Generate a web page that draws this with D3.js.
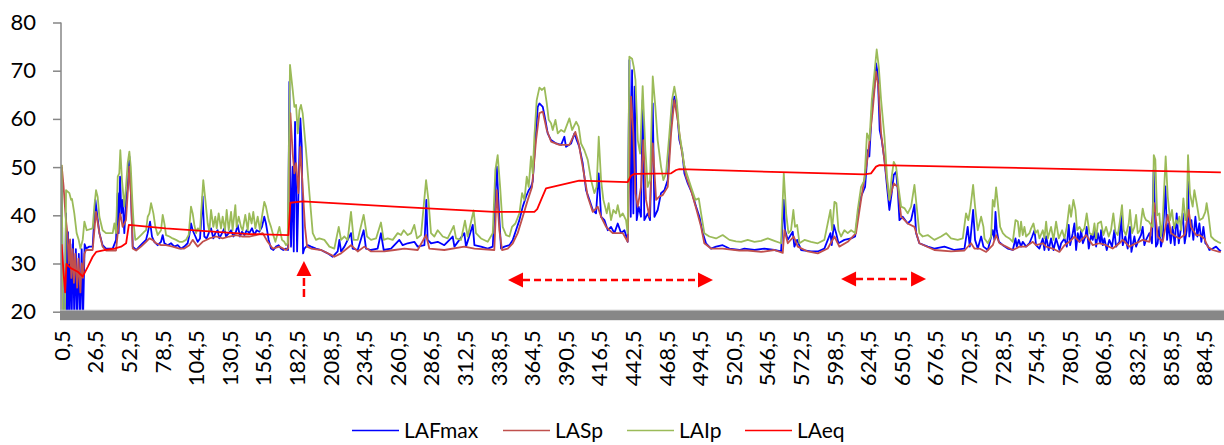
<!DOCTYPE html>
<html>
<head>
<meta charset="utf-8">
<script src="https://cdn.jsdelivr.net/npm/d3@7"></script>
<style>
  html, body { margin: 0; padding: 0; background: #fff; }
  svg { display: block; font-family: Lato, "Liberation Sans", sans-serif; }
</style>
</head>
<body>
<svg id="chart" width="1224" height="445"></svg>
<script>
// Sound level time history, seconds vs dB(A)
const categoryCount = 898;                 // one category per second: 0,5 … 897,5
const xTickValues = d3.range(0, 35).map(k => 0.5 + 26 * k);
const yTickValues = [20, 30, 40, 50, 60, 70, 80];

const seriesNames = ["LAFmax", "LASp", "LAIp", "LAeq"];

// [time (s), level dB]
const lafmax = [
[0.5,50],[1.5,18],[3,19],[3.9,40.4],[4.6,18],[5.4,36.5],[6.3,18],[7.3,34],[8.2,18],[9.3,35],[10.3,18],[11.5,33],[12.5,18],[13.8,32],[14.8,18],[16,33],[17,18],[18.3,34],[19.4,33.1],[21.9,33.5],[24.5,33.5],[26.6,43.2],[29.7,36.3],[32.2,33.8],[34.8,33.1],[40,33.1],[42.6,34.9],[43.9,44.6],[44.6,36.3],[45.7,48],[46.7,40.4],[47.7,43.2],[49,36.3],[50.3,43.2],[51.6,45.9],[52.9,52.2],
[54.2,44],[55.5,33.5],[58.1,32.8],[60.6,33.5],[63.2,34.2],[65.8,34.9],[67.1,36.3],[68.9,38.7],[70.4,35.6],[72.2,34.5],[74.8,33.8],[77.4,34.5],[78.7,35.9],[80,34.2],[82.6,33.8],[85.1,34.2],[87.7,33.5],[90.3,33.8],[92.9,33.1],[95.4,33.5],[98,34.2],[99.3,35.9],[100.6,38.3],[101.9,36.9],[104,35.6],[105.8,34.5],[107.6,35.2],[109.6,43.9],[110.9,35.6],[112.7,35.2],[114.8,36.6],[116.1,37.3],[117.9,35.2],[119.4,36.3],[121.2,36.9],[122.5,35.2],[124.6,36.3],[126.4,37.3],[127.7,35.6],[129.8,36.3],[131.6,36.9],[133.4,35.6],[135.4,36.6],[136.7,38],[138.5,35.6],[140.1,36.6],[141.9,35.9],[143.7,36.9],[145.7,36.3],[147.8,37.3],[149.6,35.9],[151.4,36.9],[153.5,36.6],[155.5,37.6],[157.3,39.7],[158.6,38.3],[160.7,34.9],[162.5,33.1],[164.3,32.8],[166.4,33.5],[168.4,33.8],[170.2,33.1],[172,32.8],[174.1,33.1],[175.7,32.8],
[176.7,67.7],[178,33.5],[179.3,50.1],[180.1,32.5],[181.1,59.4],[182.7,32.5],[184.5,53.5],[185.2,60.1],[186.3,54.2],[187.3,32.1],[188.3,33.1],[190.9,33.8],[193.5,33.5],[197.3,33.1],[201.2,32.8],[206.4,32.1],[210.2,31.4],[214.1,32.5],[215.4,34.9],[216.7,32.5],[219.3,33.5],[224.4,36.3],[225.7,33.1],[229.6,32.8],[234.2,36.9],[236,33.1],[239.9,32.8],[245,33.1],[247.6,36.3],[249.7,32.8],[255.4,33.1],[261.8,34.9],[264.4,33.8],[268.3,34.2],[273.4,34.5],[276,33.5],[281.2,33.8],[282.7,43.2],[283.7,34.9],[286.3,34.2],[291.5,34.5],[296.6,33.8],[303.1,35.6],[304.4,33.5],[312.1,36.3],[313.4,33.5],[318.6,38],[319.9,33.8],[325,33.5],[330.2,33.1],
[334.1,33.5],[337.2,50.1],[338.7,41.8],[340.5,33.1],[343.1,33.5],[347,33.8],[349.6,34.9],[352.1,36.9],[354.7,39],[357.3,41.8],[359.9,43.9],[361.9,45.2],[363.7,45.9],[365,47],[367.1,55.6],[368.9,62.5],[370.2,63.2],[372.8,62.5],[374.8,59.8],[376.6,57],[379.2,55.6],[383.1,54.9],[387,54.6],[389.5,56.3],[390.8,54.2],[394.7,54.9],[397.3,57],[399.1,55.6],[401.1,54.2],[403.7,50.8],[406.3,45.2],[408.9,43.2],[411.5,41.1],[414,40.4],[416.1,48.7],[417.9,39.7],[420.5,39],[423.1,36.9],[425.6,37.6],[428.2,36.3],[430.8,38.3],[433.4,36.3],[436,36.9],[438.5,34.5],[439.8,72.2],[440.9,39.7],[441.9,70.1],[442.9,40.4],[443.9,66.7],[445.5,39],[447,41.8],[448.8,39.7],[450.1,63.9],[451.4,39],[454,40.4],[455.8,39],[457.9,63.2],[459.2,39.7],[461.7,41.1],[464.3,44.6],[466.9,45.2],[469.5,47.3],[472.1,59.8],[474.6,64.6],[476.7,61.8],[478.5,55.6],[480.6,53.5],[482.4,48.7],[485,46.6],[488.3,44.6],[491.4,41.8],[494,39.7],[496.6,36.3],[499.1,34.2],[503,33.1],[506.9,33.5],[512,33.8],[517.2,33.1],[524.9,32.8],
[528.8,33.1],[536.6,32.8],[544.3,33.1],[552,32.8],[557.2,32.5],[559.3,43.2],[560.3,36.9],[562.4,34.9],[566.2,36.6],[567.5,33.5],[569.6,34.9],[572.7,32.8],[580.4,32.5],[585.6,32.5],[590.7,33.1],[595.4,36.3],[596.4,33.8],[598,38],[599.8,36.3],[601.6,34.2],[606.2,34.9],[611.4,35.2],[614.5,35.6],[617,41.1],[619.1,43.9],[622.2,45.9],[624.3,53.5],[625.5,52.2],[627.4,61.8],[629.4,66.7],[630.7,71.5],[632,69.4],[633.5,57.7],[635.1,55.6],[637.2,51.5],[639.2,45.9],[641,41.1],[642.8,44.6],[644.4,48.4],[646.2,49],[647.5,45.2],[648.8,39],[651.3,39.7],[655.2,38.3],[657.8,39],[660.4,42.2],[661.7,36.3],[664.2,34.2],[670.7,33.5],[675.8,33.1],[683.6,33.5],[691.3,32.8],[699.1,33.1],[701.6,37.6],[703.2,33.5],[705.8,41.1],[707.3,34.9],[709.4,33.1],
[712,35.6],[713.8,33.5],[717.2,32.8],[721,36.9],[722.3,34.9],[723.1,40.7],[724.1,36.9],[725.7,34.5],[728.8,33.8],[732.6,33.1],[736.5,32.8],[738.6,35.2],[739.6,33.5],[741.1,34.9],[742.9,33.5],[744.2,34.5],[746.8,33.5],[749.4,34.2],[751.5,35.6],[753.3,36.9],[754.5,33.8],[757.1,33.1],[759.7,35.2],[761,32.8],[762.3,35.6],[764.3,32.8],[766.1,35.2],[768,32.8],[770,35.2],[772.6,32.8],[773.9,34.2],[776.5,35.2],[778.3,33.5],[779.8,38],[780.9,33.8],[782.9,36.3],[784.2,38.3],[785.5,32.8],[786.8,36.3],[788.1,34.5],[789.4,36.9],[790.7,34.2],[792.7,35.6],[793.7,37.6],[795.3,33.1],[797.1,35.9],[798.4,34.9],[799.7,36.9],[801,33.5],[802.3,36.3],[804.1,34.2],[804.8,36.9],[806.1,33.8],[807.4,35.2],[809.2,32.8],[811.2,34.9],[813.3,33.5],[815.1,36.9],[816.4,33.5],[819,34.5],[820.3,40.1],[821.6,33.8],[823.6,35.6],[825.4,33.1],[827.2,37.6],[828.3,32.4],[830.6,35.6],[831.9,33.5],[833.9,34.9],[835.7,35.9],[837,37.6],[838.3,33.8],[839.6,34.9],[842.2,36.3],[844.2,34.2],[845.5,49.4],[847.3,33.5],[848.6,34.2],[849.9,37.6],[851.2,33.5],[852.5,35.2],[854.6,46],[855.9,34.9],[857.1,38.3],[858.7,34.2],[860.2,37.6],[861.8,33.8],[863.3,40.4],[864.9,34.2],[866.4,36.9],[868,40.4],[869.5,34.2],[871.1,36.9],[872.1,47],[873.1,35.6],[874.7,39],[876.2,34.9],[877.8,39.7],[879.3,35.6],[880.9,38.3],[882.4,34.5],[884,37.6],[885.5,34.2],[887.1,33.8],[888.6,32.8],[891.2,33.1],[893.8,33.5],[896.3,32.8],[897.5,32.5]
];

const lasp = [
[0.5,50.4],[2,46],[3.5,40],[5,36],[6,30],[7,35],[8,27],[9,33],[10,26],[11,32],[12.5,25],[13.5,31],[15,24],[16,30],[17,27],[18.1,32],[19.4,32.8],[24.5,32.8],[27.1,40.7],[29.7,36.3],[32.2,33.5],[34.8,32.7],[42.6,32.7],[43.9,36.3],[45.9,40.4],[47.7,37.6],[50.3,39],[52.9,50.1],
[54.2,44],[55.5,33.1],[58.1,32.7],[61.9,33.5],[65.8,34.5],[68.4,35.2],[70.9,34.9],[73.5,34.2],[77.4,33.8],[81.3,33.8],[86.4,33.5],[91.6,33.1],[95.4,33.1],[99.3,33.8],[101.9,34.9],[105.8,33.5],[109.6,34.5],[114.8,35.2],[120,35.6],[125.1,35.2],[130.3,35.6],[135.4,35.9],[140.6,35.6],[145.7,35.6],[150.9,35.9],[156.1,36.3],[159.9,34.5],[163.8,33.1],[169,33.5],[174.1,32.8],[175.9,33.2],
[177.5,61.2],[179.3,52.8],[180.6,48.7],[181.9,50.8],[183.7,44.6],[185.2,54.2],[187,45.9],[188.8,37.6],[190.4,33.5],[193.5,33.1],[201.2,32.8],[209,31.8],[211.5,31.4],[216.7,32.1],[224.4,33.8],[229.6,32.5],[234.7,33.5],[239.9,32.5],[250.2,32.5],[258,32.8],[265.7,33.1],[276,32.8],[282.5,35.9],[285,33.1],[296.6,32.8],[312.1,33.5],[319.9,33.1],[335.3,32.8],
[337.2,45.2],[339.2,36.9],[341.3,32.8],[345.7,33.1],[349.6,34.2],[353.4,36.3],[357.3,39.7],[361.2,43.2],[364.5,45.9],[367.6,55.6],[370.2,61.2],[372.8,61.5],[375.9,57.7],[379.2,55.3],[385.7,54.6],[393.4,54.6],[398,57.3],[400.6,54.9],[403.7,50.1],[407.6,43.9],[411.5,40.7],[415.3,41.8],[417.9,39.7],[421.8,37.6],[426.9,36.3],[434.7,36.3],[438.5,34.5],[441.1,64.6],[442.9,57],[444.5,44.6],[446.3,41.8],[448.8,45.9],[450.6,55.6],[452.7,43.2],[455.3,39.7],[457.9,54.9],[460.5,43.2],[463,43.9],[465.6,44.2],[469.5,45.9],[472.1,57],[474.6,63.9],[477.2,59.8],[479.8,54.2],[483.7,48],[487.5,45.2],[491.4,41.5],[495.3,37.6],[497.8,34.2],[503,33.1],[512,33.1],[524.9,32.7],[531.4,32.7],[541.7,32.4],[552,32.8],[558.5,32.2],[559.8,36.9],[562.4,34.2],[567,35.6],[570.1,33.5],[577.8,32.5],[585.6,32.1],[593.3,33.1],[598.5,35.6],[602.3,33.5],[608.8,34.5],[615.2,36.3],[619.1,43.2],[624.3,52.2],[628.1,61.8],[630.7,69.8],[632.5,66.7],[634.6,57],[638.4,48.7],[641,43.2],[644.4,46.6],[647.5,45.9],[650.1,39.7],[655.2,38.3],[660.4,37.6],[664.2,34.2],[675.8,32.8],[688.7,32.5],[699.1,32.7],[704.2,34.2],[706.8,33.1],
[710.7,33.1],[715.9,32.4],[721,33.8],[723.6,35.9],[726.2,34.2],[731.3,33.5],[736.5,32.8],[741.7,33.5],[746.8,33.5],[752,34.5],[754.5,33.8],[759.7,34.2],[762.3,33.5],[767.4,33.1],[772.6,32.4],[776.5,33.8],[780.3,34.5],[784.2,35.6],[788.1,34.5],[793.2,35.9],[798.4,33.8],[803.5,34.2],[808.7,33.8],[813.8,33.1],[819,34.2],[821.6,34.9],[826.7,33.5],[831.9,34.2],[837,34.9],[842.2,34.5],[846,42.5],[848.6,35.6],[852.5,34.5],[856.4,40.1],[859,36.3],[862.8,35.6],[865.4,35.2],[869.3,35.9],[872.6,41.1],[874.4,37.6],[878.3,35.9],[880.9,35.9],[884.7,35.2],[887.3,33.5],[891.2,32.8],[896.3,32.4],[897.5,32.4]
];

const laip = [
[0.5,50.5],[1.5,18],[3,18],[3.9,45.2],[6.5,44.6],[7.8,43.2],[8.5,43.4],[10.3,40.4],[12.1,36.3],[13.7,34.9],[15,33.1],[16.8,34.9],[18.1,38.7],[19.9,36.9],[24.5,37.3],[25.8,41.8],[27.1,45.2],[28.4,43.8],[29.7,39.7],[32.2,36.9],[34.8,36.3],[40,36.3],[41.3,38.3],[42.6,36.3],[43.9,48],[45.1,48.7],[45.9,53.5],[47.2,47.3],[49,41.8],[50.3,45.9],[51.6,50.8],[52.9,53.2],
[54,50],[55.2,43],[56.2,38.3],[57.5,34.9],[59.3,35.2],[61.9,35.9],[64.5,36.6],[65.8,36.9],[67.1,39.7],[68.4,40.4],[69.7,42.5],[71.5,40.4],[73,37.6],[74.8,35.9],[77.4,36.9],[78.7,40.1],[80,38.3],[81.3,35.9],[83.9,35.6],[86.4,35.2],[89,34.9],[91.6,34.5],[94.2,34.5],[96.7,34.9],[98.8,35.9],[100.6,41.8],[101.9,40.4],[103.2,38],[104.5,36.3],[105.8,37.3],[107.6,36.9],[109.1,43.2],[110.1,47.3],[111.7,43.2],[113.5,38.3],[114.8,36.6],[116.1,41.1],[117.9,37.6],[119.4,39.7],[120.5,37.3],[122,40.4],[123.8,37.3],[125.1,39.7],[126.9,36.9],[128.2,41.1],[129.8,36.9],[131.6,40.7],[132.8,36.9],[134.9,42.1],[135.9,37.6],[137.5,39.7],[139.3,37.6],[140.6,36.9],[142.6,40.1],[144.5,36.9],[145.7,40.4],[147.5,38.3],[148.8,40.7],[150.4,37.3],[152.2,39.7],[154,36.9],[155.5,39.7],[157.3,42.8],[158.6,41.8],[160.7,39],[162.5,37.6],[163.8,36.3],[165.9,34.5],[167.7,36.3],[169,37.6],[171,34.9],[172.8,34.5],[174.1,33.8],[175.4,34.2],
[177.2,71.2],[179.3,66],[180.6,62.5],[181.9,62.9],[183.2,57],[184.5,61.8],[185.7,62.9],[187,61.2],[189.6,53.5],[192.2,44.6],[194.8,36.3],[197.3,34.9],[199.9,35.2],[203.8,34.9],[207.7,33.5],[211.5,33.1],[214.9,37.6],[216.7,34.9],[219.3,35.6],[221.8,34.9],[224.4,40.7],[226.5,34.9],[229.6,34.9],[234.2,40.1],[236.8,35.6],[239.9,34.9],[243.8,35.2],[247.6,38.5],[249.7,34.9],[252.8,35.2],[256.7,34.9],[260.5,36.3],[263.1,35.9],[265.2,36.9],[268.3,35.9],[270.9,36.3],[273.4,38],[275.5,35.2],[278.6,35.9],[282.5,47.3],[284.3,43.2],[286.3,36.3],[288.9,35.6],[291.5,36.9],[295.4,35.6],[299.2,35.2],[303.9,37.8],[305.7,35.2],[309.5,34.9],[312.6,38.9],[314.7,35.6],[319.3,41],[321.1,36.3],[325,35.2],[330.2,34.5],
[334.1,36.3],[336.1,49.4],[337.9,52.5],[339.8,45.9],[341.8,37.6],[344.4,35.9],[347,35.6],[349,37.6],[351.6,38.3],[354.7,40.4],[356.8,44.6],[358.6,43.2],[360.4,48],[361.9,45.9],[363.7,52.2],[365,48.7],[366.3,56.3],[368.1,63.9],[370.2,66.5],[372.2,66],[374.1,66.5],[375.9,63.2],[377.4,59.8],[379.2,59.1],[380.5,57.7],[382.6,59.8],[384.4,57],[387,57.7],[389.5,57.3],[393.4,60.1],[395.5,57.7],[398.6,59.4],[400.6,58.4],[402.4,54.9],[405,53.5],[407.6,51.5],[410.2,47.3],[412.7,44.6],[414.5,45.9],[416.1,56.3],[417.9,47.3],[419.7,43.2],[422.3,40.4],[423.8,42.5],[425.6,39],[427.4,41.1],[429.5,40.4],[430.8,42.1],[432.6,39.7],[434.7,40.4],[437.2,39],[438.5,36.3],[439.8,72.9],[441.9,72.5],[443.2,70.8],[444.5,68.1],[446.3,55.6],[448.1,52.8],[450.1,66.8],[452.2,53.5],[454,45.9],[455.8,47.3],[457.9,68.8],[459.9,62.5],[461.7,55.6],[464.3,50.1],[466.1,47.3],[468.2,48.7],[470.8,57],[472.8,63.9],[474.6,66.7],[476.4,63.9],[478.5,57],[480.6,53.5],[482.4,50.1],[485,48],[487.5,45.9],[490.9,43.2],[493.5,43.5],[495.3,40.4],[497.8,36.3],[501.7,35.6],[506.9,35.2],[512,35.9],[517.2,34.9],[522.3,34.6],
[526.3,34.5],[531.4,34.9],[536.6,34.5],[541.7,34.7],[546.9,35.2],[552,34.7],[557.2,34.2],[559.3,48.7],[561.1,40.4],[562.9,36.3],[564.9,36.9],[566.7,41.1],[568,37.6],[569.6,38],[571.4,34.2],[575.3,34.9],[580.4,34.5],[585.6,34.2],[590.7,34.9],[595.4,41.1],[596.7,36.9],[598.5,42.8],[600,42.5],[601.6,36.9],[603.6,35.6],[606.2,36.9],[608.8,36.3],[611.4,36.9],[614.5,36.3],[616.5,41.1],[619.1,45.9],[621.7,47.3],[623.7,57],[625.6,55.6],[627.4,63.9],[629.4,69.4],[631.2,74.4],[632.8,70.8],[634.6,63.9],[637.2,56.3],[639.2,48],[641,43.2],[642.8,48],[644.4,51.1],[646.2,50.1],[648,45.9],[650.1,41.8],[652.6,41.5],[655.2,40.4],[657.8,41.8],[660.4,46.3],[662.4,41.1],[664.2,36.3],[666.8,35.6],[670.7,35.9],[675.8,34.9],[681,35.6],[684.9,36.3],[688.7,35.2],[693.9,34.9],[697.8,35.2],[700.3,40.4],[702.1,39],[703.7,41.5],[705.8,46.3],[707.3,41.8],[709.4,36.9],
[712,39.7],[713.8,37.6],[714.6,35.2],[717.2,34.2],[719.7,35.6],[721,43.2],[722.3,41.8],[723.6,45.8],[724.9,42.5],[726.7,37.6],[728.8,36.3],[731.3,35.6],[733.9,35.2],[736.5,34.5],[738.6,39],[740.4,38.7],[741.7,35.6],[742.9,38.7],[744.2,35.9],[745.5,37.6],[746.8,35.6],[749.4,36.3],[750.7,37.3],[752.5,38.3],[754,36.3],[755.8,36.9],[757.1,35.2],[759.7,36.9],[761,35.2],[762.3,38.7],[763.6,35.2],[766.1,37.6],[768,34.9],[770,38.7],[772.1,35.2],[774.7,36.9],[776.5,35.2],[778.3,37.6],[780.3,42.1],[781.6,39.7],[783.4,43.2],[785,41.1],[786.3,36.9],[788.1,37.6],[790.1,36.6],[791.9,37.3],[793.7,40.4],[795.8,36.3],[798.4,35.9],[799.7,38.3],[801,35.2],[802.3,38.3],[804.8,38.7],[806.6,35.9],[808.7,37.6],[810.7,35.6],[812.5,36.9],[814.3,40.4],[815.9,36.6],[817.7,35.9],[819.5,39],[821,42.1],[822.3,36.9],[824.1,35.9],[826.2,38.3],[827.2,41.1],[828.8,36.3],[830.6,37.6],[831.9,40.1],[833.2,36.3],[835,36.9],[837,41.4],[838.3,39.7],[839.6,39],[841.7,38.7],[843.5,38],[844.8,37.6],[845.6,52.5],[846.8,51.5],[848.2,40],[849.9,40.4],[851.2,35.6],[852.5,39],[854.8,52.2],[856.4,43.9],[858.2,39],[859.7,41.1],[861.3,37.3],[862.8,39],[864.1,38.3],[865.4,39.7],[866.7,36.9],[868.5,43.5],[870,39],[871.1,40.4],[872.1,52.5],[873.6,44.5],[875.7,41.8],[877,45.2],[878.8,42.5],[880.9,39],[883.5,39.4],[885.5,40.7],[886.5,42.5],[888.1,39.7],[889.9,35.6],[892.5,34.9],[895.1,34.5],[897.5,34.2]
];

const laeq = [
[0.5,34],[2,28],[3.2,24],[4.2,29.9],[7.8,29],[12.9,28.3],[16.8,27.3],[20.7,29.3],[24.5,31.4],[27.2,32.4],[33.6,32.8],[41.3,33.1],[46.5,33.5],[50.4,34.2],[52.5,38],[81,37.3],[145.7,36.1],[176,35.9],[177.5,42.6],[187,42.9],[258,41.8],[335,40.7],[366.3,40.7],[368.5,41.3],[371.5,43.2],[375.3,45.6],[401,47.2],[438.5,46.9],[441.1,48.2],[443.7,48.6],[472.1,48.7],[476,49.4],[478.5,49.6],[524.9,49.2],[621.7,48.5],[626.8,48.7],[630.7,50.1],[633.3,50.4],[710,50],[897.5,48.9]
];

// Event markers: [time from, time to, level]
const eventSpans = [[345.9, 504.5, 26.6], [603.6, 669.4, 26.8]];
const eventPoints = [[188, 23, 30.5]];   // [time, level foot, level tip]

const seriesData = [lafmax, lasp, laip, laeq];
const seriesColors = ["#0000FF", "#C0504D", "#9BBB59", "#FF0000"];

const svg = d3.select("#chart");
const plot = { left: 61, right: 1221.5, top: 22.5, bottom: 311.7 };

const x = d3.scaleLinear().domain([0, categoryCount]).range([plot.left, plot.right]);
const y = d3.scaleLinear().domain([20, 80]).range([plot.bottom, plot.top]);

svg.append("defs").append("clipPath").attr("id", "plotClip")
  .append("rect")
  .attr("x", plot.left).attr("y", plot.top - 2)
  .attr("width", 1224 - plot.left).attr("height", plot.bottom - plot.top + 3);

// Series
const line = d3.line().x(d => x(d[0])).y(d => y(d[1]));
const seriesG = svg.append("g").attr("clip-path", "url(#plotClip)");
seriesData.forEach((s, i) => {
  seriesG.append("path")
    .datum(s)
    .attr("fill", "none")
    .attr("stroke", seriesColors[i])
    .attr("stroke-width", 1.8)
    .attr("stroke-linejoin", "round")
    .attr("d", line);
});

// Y axis
const yAxis = svg.append("g")
  .attr("transform", `translate(${plot.left},0)`)
  .call(d3.axisLeft(y).tickValues(yTickValues).tickSize(8).tickPadding(17).tickFormat(d3.format("d")));
yAxis.select(".domain").attr("stroke", "#868686").attr("stroke-width", 1.5)
  .attr("d", `M0,${plot.top}V${plot.bottom}`);
yAxis.selectAll(".tick line").attr("stroke", "#868686").attr("stroke-width", 1.5);
yAxis.selectAll(".tick text")
  .attr("fill", "#000").style("font-size", "22px").style("font-family", "Lato, sans-serif");

// X axis band (thick floor line at 20)
svg.append("rect")
  .attr("x", plot.left - 1).attr("y", y(20) - 1.5)
  .attr("width", 1224 - plot.left + 1).attr("height", 10)
  .attr("fill", "#878787");
svg.append("line")
  .attr("x1", plot.left - 1).attr("x2", 1224)
  .attr("y1", y(20) - 1.5).attr("y2", y(20) - 1.5)
  .attr("stroke", "#c4c4c4").attr("stroke-width", 1);

const xAxis = svg.append("g")
  .attr("transform", `translate(0,${y(20)})`)
  .call(d3.axisBottom(x).tickValues(xTickValues).tickSize(0)
    .tickFormat(d => String(d).replace(".", ",")));
xAxis.select(".domain").remove();
xAxis.selectAll(".tick text")
  .attr("transform", "rotate(-90)")
  .attr("x", -18.5).attr("y", 0).attr("dy", "0.35em")
  .attr("text-anchor", "end")
  .attr("fill", "#000").style("font-size", "22px").style("font-family", "Lato, sans-serif");

// Event annotations
const ann = svg.append("g").attr("fill", "#FF0000").attr("stroke", "#FF0000");
const head = 15, halfW = 7.5;
eventSpans.forEach(([t0, t1, v]) => {
  const x0 = x(t0), x1 = x(t1), yy = y(v);
  ann.append("line")
    .attr("x1", x0 + head).attr("x2", x1 - head).attr("y1", yy).attr("y2", yy)
    .attr("stroke-width", 2.5).attr("stroke-dasharray", "7 4").attr("fill", "none");
  ann.append("path").attr("stroke", "none")
    .attr("d", `M${x0},${yy}L${x0 + head},${yy - halfW}L${x0 + head},${yy + halfW}Z`);
  ann.append("path").attr("stroke", "none")
    .attr("d", `M${x1},${yy}L${x1 - head},${yy - halfW}L${x1 - head},${yy + halfW}Z`);
});
eventPoints.forEach(([t, vFoot, vTip]) => {
  const xx = x(t), yTip = y(vTip), yFoot = y(vFoot);
  ann.append("line")
    .attr("x1", xx).attr("x2", xx).attr("y1", yTip + head + 2).attr("y2", yFoot)
    .attr("stroke-width", 2.5).attr("stroke-dasharray", "8 3").attr("fill", "none");
  ann.append("path").attr("stroke", "none")
    .attr("d", `M${xx},${yTip}L${xx - halfW},${yTip + head}L${xx + halfW},${yTip + head}Z`);
});

// Legend
const legendX = [352, 503, 627, 745];
const legend = svg.append("g");
seriesNames.forEach((name, i) => {
  const lx = legendX[i];
  legend.append("line")
    .attr("x1", lx).attr("x2", lx + 47).attr("y1", 430.5).attr("y2", 430.5)
    .attr("stroke", seriesColors[i]).attr("stroke-width", 1.6);
  legend.append("text")
    .attr("x", lx + 52).attr("y", 438)
    .attr("fill", "#000").style("font-size", "21px").style("font-family", "Lato, sans-serif")
    .text(name);
});
</script>
</body>
</html>
